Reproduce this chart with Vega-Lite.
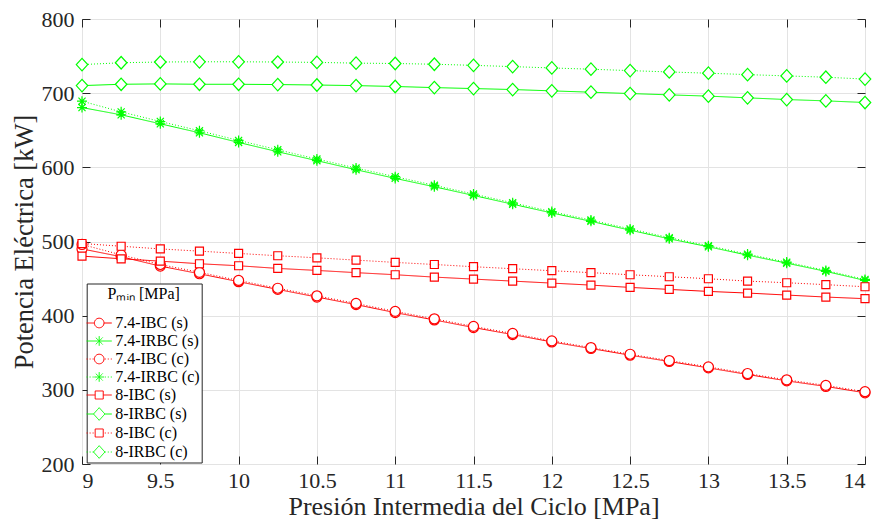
{
 "$schema": "https://vega.github.io/schema/vega-lite/v6.json",
 "width": 783, "height": 445,
 "autosize": {"type": "none"},
 "padding": {"left": 82, "top": 19, "right": 12, "bottom": 59},
 "background": "white",
 "config": {"font": "Liberation Serif", "view": {"stroke": "#262626", "strokeWidth": 1}},
 "data": {"values": [
{"p":9,"w":490,"s":"7.4-IBC (s)"},{"p":9.25,"w":479.5,"s":"7.4-IBC (s)"},{"p":9.5,"w":466.8,"s":"7.4-IBC (s)"},{"p":9.75,"w":456.5,"s":"7.4-IBC (s)"},{"p":10,"w":445.8,"s":"7.4-IBC (s)"},{"p":10.25,"w":435.4,"s":"7.4-IBC (s)"},{"p":10.5,"w":425.1,"s":"7.4-IBC (s)"},{"p":10.75,"w":414.9,"s":"7.4-IBC (s)"},{"p":11,"w":404.1,"s":"7.4-IBC (s)"},{"p":11.25,"w":394.2,"s":"7.4-IBC (s)"},{"p":11.5,"w":384,"s":"7.4-IBC (s)"},{"p":11.75,"w":374.5,"s":"7.4-IBC (s)"},{"p":12,"w":364.6,"s":"7.4-IBC (s)"},{"p":12.25,"w":355.7,"s":"7.4-IBC (s)"},{"p":12.5,"w":346.7,"s":"7.4-IBC (s)"},{"p":12.75,"w":338.2,"s":"7.4-IBC (s)"},{"p":13,"w":329.6,"s":"7.4-IBC (s)"},{"p":13.25,"w":320.7,"s":"7.4-IBC (s)"},{"p":13.5,"w":312.1,"s":"7.4-IBC (s)"},{"p":13.75,"w":304.6,"s":"7.4-IBC (s)"},{"p":14,"w":296,"s":"7.4-IBC (s)"},
{"p":9,"w":680.6,"s":"7.4-IRBC (s)"},{"p":9.25,"w":670.8,"s":"7.4-IRBC (s)"},{"p":9.5,"w":658.7,"s":"7.4-IRBC (s)"},{"p":9.75,"w":646.6,"s":"7.4-IRBC (s)"},{"p":10,"w":633.6,"s":"7.4-IRBC (s)"},{"p":10.25,"w":621,"s":"7.4-IRBC (s)"},{"p":10.5,"w":609,"s":"7.4-IRBC (s)"},{"p":10.75,"w":596.8,"s":"7.4-IRBC (s)"},{"p":11,"w":585.1,"s":"7.4-IRBC (s)"},{"p":11.25,"w":573.8,"s":"7.4-IRBC (s)"},{"p":11.5,"w":562.1,"s":"7.4-IRBC (s)"},{"p":11.75,"w":550.3,"s":"7.4-IRBC (s)"},{"p":12,"w":538.5,"s":"7.4-IRBC (s)"},{"p":12.25,"w":527.2,"s":"7.4-IRBC (s)"},{"p":12.5,"w":515.3,"s":"7.4-IRBC (s)"},{"p":12.75,"w":503.6,"s":"7.4-IRBC (s)"},{"p":13,"w":492.9,"s":"7.4-IRBC (s)"},{"p":13.25,"w":481.6,"s":"7.4-IRBC (s)"},{"p":13.5,"w":470.8,"s":"7.4-IRBC (s)"},{"p":13.75,"w":459.7,"s":"7.4-IRBC (s)"},{"p":14,"w":447.5,"s":"7.4-IRBC (s)"},
{"p":9,"w":496,"s":"7.4-IBC (c)"},{"p":9.25,"w":482,"s":"7.4-IBC (c)"},{"p":9.5,"w":469,"s":"7.4-IBC (c)"},{"p":9.75,"w":458.5,"s":"7.4-IBC (c)"},{"p":10,"w":447.5,"s":"7.4-IBC (c)"},{"p":10.25,"w":437,"s":"7.4-IBC (c)"},{"p":10.5,"w":426.8,"s":"7.4-IBC (c)"},{"p":10.75,"w":416.5,"s":"7.4-IBC (c)"},{"p":11,"w":405.8,"s":"7.4-IBC (c)"},{"p":11.25,"w":395.8,"s":"7.4-IBC (c)"},{"p":11.5,"w":385.6,"s":"7.4-IBC (c)"},{"p":11.75,"w":376,"s":"7.4-IBC (c)"},{"p":12,"w":366,"s":"7.4-IBC (c)"},{"p":12.25,"w":357,"s":"7.4-IBC (c)"},{"p":12.5,"w":348,"s":"7.4-IBC (c)"},{"p":12.75,"w":339.5,"s":"7.4-IBC (c)"},{"p":13,"w":331,"s":"7.4-IBC (c)"},{"p":13.25,"w":322,"s":"7.4-IBC (c)"},{"p":13.5,"w":313.5,"s":"7.4-IBC (c)"},{"p":13.75,"w":306,"s":"7.4-IBC (c)"},{"p":14,"w":297.5,"s":"7.4-IBC (c)"},
{"p":9,"w":689.2,"s":"7.4-IRBC (c)"},{"p":9.25,"w":674.8,"s":"7.4-IRBC (c)"},{"p":9.5,"w":661.8,"s":"7.4-IRBC (c)"},{"p":9.75,"w":649.3,"s":"7.4-IRBC (c)"},{"p":10,"w":636.3,"s":"7.4-IRBC (c)"},{"p":10.25,"w":623.7,"s":"7.4-IRBC (c)"},{"p":10.5,"w":611.2,"s":"7.4-IRBC (c)"},{"p":10.75,"w":599.1,"s":"7.4-IRBC (c)"},{"p":11,"w":587.4,"s":"7.4-IRBC (c)"},{"p":11.25,"w":575.8,"s":"7.4-IRBC (c)"},{"p":11.5,"w":564,"s":"7.4-IRBC (c)"},{"p":11.75,"w":552.2,"s":"7.4-IRBC (c)"},{"p":12,"w":540.3,"s":"7.4-IRBC (c)"},{"p":12.25,"w":528.9,"s":"7.4-IRBC (c)"},{"p":12.5,"w":517,"s":"7.4-IRBC (c)"},{"p":12.75,"w":505.2,"s":"7.4-IRBC (c)"},{"p":13,"w":494.4,"s":"7.4-IRBC (c)"},{"p":13.25,"w":483,"s":"7.4-IRBC (c)"},{"p":13.5,"w":472.2,"s":"7.4-IRBC (c)"},{"p":13.75,"w":461,"s":"7.4-IRBC (c)"},{"p":14,"w":448.8,"s":"7.4-IRBC (c)"},
{"p":9,"w":480.3,"s":"8-IBC (s)"},{"p":9.25,"w":476.7,"s":"8-IBC (s)"},{"p":9.5,"w":473.5,"s":"8-IBC (s)"},{"p":9.75,"w":470,"s":"8-IBC (s)"},{"p":10,"w":467.3,"s":"8-IBC (s)"},{"p":10.25,"w":463.7,"s":"8-IBC (s)"},{"p":10.5,"w":461,"s":"8-IBC (s)"},{"p":10.75,"w":458,"s":"8-IBC (s)"},{"p":11,"w":455.2,"s":"8-IBC (s)"},{"p":11.25,"w":452,"s":"8-IBC (s)"},{"p":11.5,"w":449.3,"s":"8-IBC (s)"},{"p":11.75,"w":446.6,"s":"8-IBC (s)"},{"p":12,"w":443.9,"s":"8-IBC (s)"},{"p":12.25,"w":441.2,"s":"8-IBC (s)"},{"p":12.5,"w":438.1,"s":"8-IBC (s)"},{"p":12.75,"w":435.4,"s":"8-IBC (s)"},{"p":13,"w":432.7,"s":"8-IBC (s)"},{"p":13.25,"w":430.5,"s":"8-IBC (s)"},{"p":13.5,"w":427.8,"s":"8-IBC (s)"},{"p":13.75,"w":425.1,"s":"8-IBC (s)"},{"p":14,"w":422.9,"s":"8-IBC (s)"},
{"p":9,"w":710.2,"s":"8-IRBC (s)"},{"p":9.25,"w":712,"s":"8-IRBC (s)"},{"p":9.5,"w":712.5,"s":"8-IRBC (s)"},{"p":9.75,"w":712,"s":"8-IRBC (s)"},{"p":10,"w":712,"s":"8-IRBC (s)"},{"p":10.25,"w":711.6,"s":"8-IRBC (s)"},{"p":10.5,"w":711,"s":"8-IRBC (s)"},{"p":10.75,"w":710.2,"s":"8-IRBC (s)"},{"p":11,"w":709,"s":"8-IRBC (s)"},{"p":11.25,"w":707.5,"s":"8-IRBC (s)"},{"p":11.5,"w":706.2,"s":"8-IRBC (s)"},{"p":11.75,"w":704.9,"s":"8-IRBC (s)"},{"p":12,"w":703.1,"s":"8-IRBC (s)"},{"p":12.25,"w":701.3,"s":"8-IRBC (s)"},{"p":12.5,"w":699.5,"s":"8-IRBC (s)"},{"p":12.75,"w":697.7,"s":"8-IRBC (s)"},{"p":13,"w":696,"s":"8-IRBC (s)"},{"p":13.25,"w":693.7,"s":"8-IRBC (s)"},{"p":13.5,"w":691.4,"s":"8-IRBC (s)"},{"p":13.75,"w":689.6,"s":"8-IRBC (s)"},{"p":14,"w":687.4,"s":"8-IRBC (s)"},
{"p":9,"w":497.3,"s":"8-IBC (c)"},{"p":9.25,"w":493.6,"s":"8-IBC (c)"},{"p":9.5,"w":490,"s":"8-IBC (c)"},{"p":9.75,"w":487,"s":"8-IBC (c)"},{"p":10,"w":483.9,"s":"8-IBC (c)"},{"p":10.25,"w":480.8,"s":"8-IBC (c)"},{"p":10.5,"w":478,"s":"8-IBC (c)"},{"p":10.75,"w":474.9,"s":"8-IBC (c)"},{"p":11,"w":471.8,"s":"8-IBC (c)"},{"p":11.25,"w":469,"s":"8-IBC (c)"},{"p":11.5,"w":466,"s":"8-IBC (c)"},{"p":11.75,"w":463.3,"s":"8-IBC (c)"},{"p":12,"w":460.6,"s":"8-IBC (c)"},{"p":12.25,"w":458,"s":"8-IBC (c)"},{"p":12.5,"w":455.2,"s":"8-IBC (c)"},{"p":12.75,"w":452.5,"s":"8-IBC (c)"},{"p":13,"w":449.8,"s":"8-IBC (c)"},{"p":13.25,"w":446.6,"s":"8-IBC (c)"},{"p":13.5,"w":444.4,"s":"8-IBC (c)"},{"p":13.75,"w":441.8,"s":"8-IBC (c)"},{"p":14,"w":439,"s":"8-IBC (c)"},
{"p":9,"w":738.5,"s":"8-IRBC (c)"},{"p":9.25,"w":741,"s":"8-IRBC (c)"},{"p":9.5,"w":742,"s":"8-IRBC (c)"},{"p":9.75,"w":742.3,"s":"8-IRBC (c)"},{"p":10,"w":742.3,"s":"8-IRBC (c)"},{"p":10.25,"w":742,"s":"8-IRBC (c)"},{"p":10.5,"w":741.5,"s":"8-IRBC (c)"},{"p":10.75,"w":740.5,"s":"8-IRBC (c)"},{"p":11,"w":740,"s":"8-IRBC (c)"},{"p":11.25,"w":739,"s":"8-IRBC (c)"},{"p":11.5,"w":737.5,"s":"8-IRBC (c)"},{"p":11.75,"w":735.8,"s":"8-IRBC (c)"},{"p":12,"w":734,"s":"8-IRBC (c)"},{"p":12.25,"w":732.3,"s":"8-IRBC (c)"},{"p":12.5,"w":730.4,"s":"8-IRBC (c)"},{"p":12.75,"w":728.6,"s":"8-IRBC (c)"},{"p":13,"w":726.9,"s":"8-IRBC (c)"},{"p":13.25,"w":725,"s":"8-IRBC (c)"},{"p":13.5,"w":723.3,"s":"8-IRBC (c)"},{"p":13.75,"w":721.5,"s":"8-IRBC (c)"},{"p":14,"w":719,"s":"8-IRBC (c)"}
 ]},
 "layer": [
  {
   "mark": {"type": "line", "strokeWidth": 1},
   "encoding": {
    "x": {"field": "p", "type": "quantitative", "scale": {"domain": [9, 14], "nice": false, "zero": false},
      "axis": {"orient": "bottom", "offset": -8, "domain": false, "values": [9, 9.5, 10, 10.5, 11, 11.5, 12, 12.5, 13, 13.5, 14], "format": "~g", "grid": true, "gridColor": "#e3e3e3", "tickColor": "#262626", "tickSize": 8, "labelFontSize": 22, "labelColor": "#262626", "labelPadding": 6, "title": "Presión Intermedia del Ciclo [MPa]", "titleFontSize": 26, "titleFontWeight": "normal", "titleColor": "#262626", "titlePadding": 2}},
    "y": {"field": "w", "type": "quantitative", "scale": {"domain": [200, 800], "nice": false, "zero": false},
      "axis": {"orient": "left", "offset": -8, "domain": false, "values": [200, 300, 400, 500, 600, 700, 800], "grid": true, "gridColor": "#e3e3e3", "tickColor": "#262626", "tickSize": 8, "labelFontSize": 22, "labelColor": "#262626", "labelPadding": 8, "title": "Potencia Eléctrica [kW]", "titleFontSize": 26.5, "titleFontWeight": "normal", "titleColor": "#262626", "titlePadding": 3}},
    "color": {"field": "s", "type": "nominal", "scale": {"domain": ["7.4-IBC (s)", "7.4-IRBC (s)", "7.4-IBC (c)", "7.4-IRBC (c)", "8-IBC (s)", "8-IRBC (s)", "8-IBC (c)", "8-IRBC (c)"], "range": ["#ff0000", "#00ff00", "#ff0000", "#00ff00", "#ff0000", "#00ff00", "#ff0000", "#00ff00"]},
      "legend": {"orient": "none", "legendX": 4.7, "legendY": 264.5, "title": "Pₘᵢₙ [MPa]", "titleFontSize": 16, "titleFontWeight": "normal", "titleColor": "black", "titleAnchor": "middle", "titlePadding": 13.5, "labelFontSize": 16, "labelColor": "black", "symbolSize": 144, "symbolStrokeWidth": 1, "symbolOffset": 2.5, "labelOffset": 8, "padding": 2, "rowPadding": 2, "strokeColor": "#262626", "fillColor": "white",
        "encode": {"symbols": {"update": {"fill": {"value": "white"}, "strokeWidth": {"value": 1}, "strokeDash": {"value": [1, 0]}, "shape": {"signal": "datum.value=='7.4-IBC (s)'?'M-2.1,0H-0.8M0.8,0H2.1M0.8,0A0.8,0.8,0,1,1,-0.8,0A0.8,0.8,0,1,1,0.8,0Z':datum.value=='7.4-IRBC (s)'?'M-2.1,0H2.1M0,-0.8V0.8M-0.57,-0.57L0.57,0.57M-0.57,0.57L0.57,-0.57':datum.value=='7.4-IBC (c)'?'M-2.1,0h0.17M-1.6,0h0.17M-1.1,0h0.17M0.93,0h0.17M1.43,0h0.17M1.93,0h0.17M0.8,0A0.8,0.8,0,1,1,-0.8,0A0.8,0.8,0,1,1,0.8,0Z':datum.value=='7.4-IRBC (c)'?'M-2.1,0h0.17M-1.6,0h0.17M-1.1,0h0.17M0.93,0h0.17M1.43,0h0.17M1.93,0h0.17M-0.8,0H0.8M0,-0.8V0.8M-0.57,-0.57L0.57,0.57M-0.57,0.57L0.57,-0.57':datum.value=='8-IBC (s)'?'M-2.1,0H-0.67M0.67,0H2.1M-0.67,-0.67H0.67V0.67H-0.67Z':datum.value=='8-IRBC (s)'?'M-2.1,0H-0.95M0.95,0H2.1M-0.95,0L0,-1.05L0.95,0L0,1.05Z':datum.value=='8-IBC (c)'?'M-2.1,0h0.17M-1.6,0h0.17M-1.1,0h0.17M0.93,0h0.17M1.43,0h0.17M1.93,0h0.17M-0.67,-0.67H0.67V0.67H-0.67Z':'M-2.1,0h0.17M-1.6,0h0.17M-1.1,0h0.17M0.93,0h0.17M1.43,0h0.17M1.93,0h0.17M-0.95,0L0,-1.05L0.95,0L0,1.05Z'"}}}}}},
    "strokeDash": {"field": "s", "type": "nominal", "scale": {"domain": ["7.4-IRBC (s)", "7.4-IBC (s)", "7.4-IRBC (c)", "7.4-IBC (c)", "8-IRBC (s)", "8-IBC (s)", "8-IRBC (c)", "8-IBC (c)"], "range": [[1, 0], [1, 0], [1, 2], [1, 2], [1, 0], [1, 0], [1, 2], [1, 2]]}, "legend": null}
   }
  },
  {
   "mark": {"type": "point", "filled": false, "fill": "white", "strokeWidth": 1.2, "size": 100, "opacity": 1},
   "encoding": {
    "x": {"field": "p", "type": "quantitative", "scale": {"domain": [9, 14], "nice": false, "zero": false},
      "axis": {"orient": "top", "offset": -8, "domain": false, "values": [9, 9.5, 10, 10.5, 11, 11.5, 12, 12.5, 13, 13.5, 14], "labels": false, "grid": false, "title": null, "tickColor": "#262626", "tickSize": 8}},
    "y": {"field": "w", "type": "quantitative", "scale": {"domain": [200, 800], "nice": false, "zero": false},
      "axis": {"orient": "right", "offset": -8, "domain": false, "values": [200, 300, 400, 500, 600, 700, 800], "labels": false, "grid": false, "title": null, "tickColor": "#262626", "tickSize": 8}},
    "shape": {"field": "s", "type": "nominal", "legend": null, "scale": {"domain": ["8-IRBC (c)", "8-IBC (c)", "8-IRBC (s)", "8-IBC (s)", "7.4-IRBC (c)", "7.4-IBC (c)", "7.4-IRBC (s)", "7.4-IBC (s)"], "range": ["M-1.15,0L0,-1.25L1.15,0L0,1.25Z", "M-0.8,-0.8H0.8V0.8H-0.8Z", "M-1.15,0L0,-1.25L1.15,0L0,1.25Z", "M-0.8,-0.8H0.8V0.8H-0.8Z", "M-1,0H1M0,-1V1M-0.71,-0.71L0.71,0.71M-0.71,0.71L0.71,-0.71", "M1,0A1,1,0,1,1,-1,0A1,1,0,1,1,1,0Z", "M-1,0H1M0,-1V1M-0.71,-0.71L0.71,0.71M-0.71,0.71L0.71,-0.71", "M1,0A1,1,0,1,1,-1,0A1,1,0,1,1,1,0Z"]}},
    "color": {"field": "s", "type": "nominal", "legend": null}
   }
  }
 ],
 "resolve": {"scale": {"x": "independent", "y": "independent"}, "axis": {"x": "independent", "y": "independent"}}
}
